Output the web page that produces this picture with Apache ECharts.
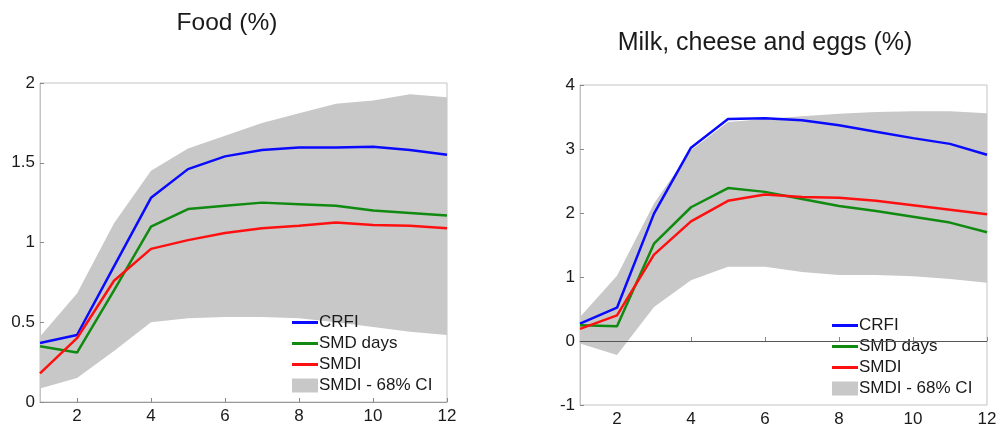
<!DOCTYPE html>
<html>
<head>
<meta charset="utf-8">
<script src="https://cdn.jsdelivr.net/npm/echarts@6/dist/echarts.min.js"></script>
<style>
  html, body { margin: 0; padding: 0; background: #fff; }
  #chart { width: 1000px; height: 428px; }
</style>
</head>
<body>
<div id="chart"></div>
<script>
// Horizon (months)
const horizon = ['1', '2', '3', '4', '5', '6', '7', '8', '9', '10', '11', '12'];
const xTickLabels = ['2', '4', '6', '8', '10', '12'];

// Panel 1: Food (%)
const foodCRFI    = [0.37, 0.42, 0.85, 1.28, 1.46, 1.54, 1.58, 1.595, 1.595, 1.60, 1.58, 1.55];
const foodSMDdays = [0.35, 0.31, 0.70, 1.10, 1.21, 1.23, 1.25, 1.24, 1.23, 1.20, 1.185, 1.17];
const foodSMDI    = [0.18, 0.40, 0.76, 0.96, 1.015, 1.06, 1.09, 1.105, 1.125, 1.11, 1.105, 1.09];
const foodCILow   = [0.085, 0.15, 0.32, 0.50, 0.525, 0.533, 0.533, 0.525, 0.50, 0.47, 0.44, 0.42];
const foodCIHigh  = [0.41, 0.68, 1.12, 1.45, 1.59, 1.67, 1.75, 1.81, 1.87, 1.89, 1.93, 1.91];

// Panel 2: Milk, cheese and eggs (%)
const milkCRFI    = [0.27, 0.52, 1.99, 3.02, 3.47, 3.48, 3.45, 3.37, 3.27, 3.17, 3.08, 2.91];
const milkSMDdays = [0.245, 0.23, 1.52, 2.09, 2.39, 2.33, 2.22, 2.11, 2.03, 1.94, 1.85, 1.70];
const milkSMDI    = [0.19, 0.40, 1.35, 1.87, 2.19, 2.29, 2.25, 2.24, 2.19, 2.12, 2.05, 1.98];
const milkCILow   = [-0.04, -0.22, 0.53, 0.95, 1.16, 1.16, 1.08, 1.03, 1.03, 1.01, 0.97, 0.91];
const milkCIHigh  = [0.375, 1.02, 2.15, 2.98, 3.42, 3.47, 3.51, 3.55, 3.58, 3.59, 3.59, 3.56];

const titles = ['Food (%)', 'Milk, cheese and eggs (%)'];
const names = ['CRFI', 'SMD days', 'SMDI', 'SMDI - 68% CI'];

const BLUE = '#0a0aff', GREEN = '#108a10', RED = '#ff1010', BAND = '#c8c8c8';
const FONT = '"Liberation Sans", Arial, sans-serif';
const TXT = '#1a1a1a', FRAME = '#c4c4c4';

// Short horizontal stroke as legend key; tiny corner dots keep the icon box at full size
const LINE_ICON = 'path://M0,0h0.01v0.01h-0.01z M0,5.6h26v2.8h-26z M25.99,13.99h0.01v0.01h-0.01z';

const width = (hi, lo) => hi.map((v, i) => +(v - lo[i]).toFixed(4));

function panelSeries(idx, crfi, days, smdi, lo, hi, extra) {
  const base = { type: 'line', xAxisIndex: idx, yAxisIndex: idx, symbol: 'none', showSymbol: false, silent: true, animation: false };
  const stackId = 'ci' + idx;
  const list = [
    Object.assign({}, base, {
      name: 'ciLow' + idx, stack: stackId, stackStrategy: 'all',
      data: lo, lineStyle: { opacity: 0, width: 0 }, areaStyle: { opacity: 0 }, z: 1
    }),
    Object.assign({}, base, {
      name: names[3], stack: stackId, stackStrategy: 'all',
      data: width(hi, lo), lineStyle: { opacity: 0, width: 0 },
      itemStyle: { color: BAND }, areaStyle: { color: BAND, opacity: 1 }, z: 1
    }),
    Object.assign({}, base, { name: names[0], data: crfi, itemStyle: { color: BLUE }, lineStyle: { color: BLUE, width: 2.5 }, z: 3 }),
    Object.assign({}, base, { name: names[1], data: days, itemStyle: { color: GREEN }, lineStyle: { color: GREEN, width: 2.5 }, z: 3 }),
    Object.assign({}, base, { name: names[2], data: smdi, itemStyle: { color: RED }, lineStyle: { color: RED, width: 2.5 }, z: 4 })
  ];
  if (extra) Object.assign(list[2], extra);
  return list;
}

const evenOnly = (index, value) => xTickLabels.indexOf(String(value)) >= 0;

function xAxis(idx) {
  return {
    type: 'category', gridIndex: idx, data: horizon, boundaryGap: false,
    axisLine: { lineStyle: { color: '#9a9a9a', width: 1 } },
    axisTick: { inside: true, length: 4, lineStyle: { color: '#888' }, interval: evenOnly },
    axisLabel: { color: TXT, fontSize: 17, fontFamily: FONT, margin: 6, interval: evenOnly },
    splitLine: { show: false }
  };
}
function yAxis(idx, min, max, interval) {
  return {
    type: 'value', gridIndex: idx, min: min, max: max, interval: interval,
    axisLine: { show: true, lineStyle: { color: FRAME, width: 1 } },
    axisTick: { show: true, inside: true, length: 4, lineStyle: { color: '#888' } },
    axisLabel: { color: TXT, fontSize: 17, fontFamily: FONT, margin: 5 },
    splitLine: { show: false }
  };
}
function legend(left, top) {
  return {
    orient: 'vertical', left: left, top: top, padding: 0, itemWidth: 26, itemHeight: 14, itemGap: 4,
    selectedMode: false,
    textStyle: { color: TXT, fontSize: 17, fontFamily: FONT, padding: [0, 0, 0, -4] },
    data: [
      { name: names[0], icon: LINE_ICON }, { name: names[1], icon: LINE_ICON }, { name: names[2], icon: LINE_ICON },
      { name: names[3], icon: 'rect', itemStyle: { color: BAND } }
    ]
  };
}

const chart = echarts.init(document.getElementById('chart'), null, { renderer: 'canvas' });
chart.setOption({
  backgroundColor: '#fff',
  animation: false,
  title: [
    { text: titles[0], left: 222, top: 6, textAlign: 'center', textStyle: { color: TXT, fontSize: 24.5, fontWeight: 'normal', fontFamily: FONT } },
    { text: titles[1], left: 760, top: 26, textAlign: 'center', textStyle: { color: TXT, fontSize: 25, fontWeight: 'normal', fontFamily: FONT } }
  ],
  grid: [
    { left: 40, right: 553, top: 83, bottom: 26, show: true, borderColor: FRAME, borderWidth: 1, backgroundColor: 'transparent' },
    { left: 580, right: 13, top: 85, bottom: 23, show: true, borderColor: FRAME, borderWidth: 1, backgroundColor: 'transparent' }
  ],
  xAxis: [xAxis(0), xAxis(1)],
  yAxis: [yAxis(0, 0, 2, 0.5), yAxis(1, -1, 4, 1)],
  legend: [legend(292, 314), legend(832, 317)],
  series: [
    ...panelSeries(0, foodCRFI, foodSMDdays, foodSMDI, foodCILow, foodCIHigh),
    ...panelSeries(1, milkCRFI, milkSMDdays, milkSMDI, milkCILow, milkCIHigh, {
      markLine: {
        silent: true, symbol: 'none', label: { show: false }, animation: false,
        lineStyle: { color: '#555', width: 1, type: 'solid' },
        data: [{ yAxis: 0 }]
      }
    })
  ]
});
</script>
</body>
</html>
